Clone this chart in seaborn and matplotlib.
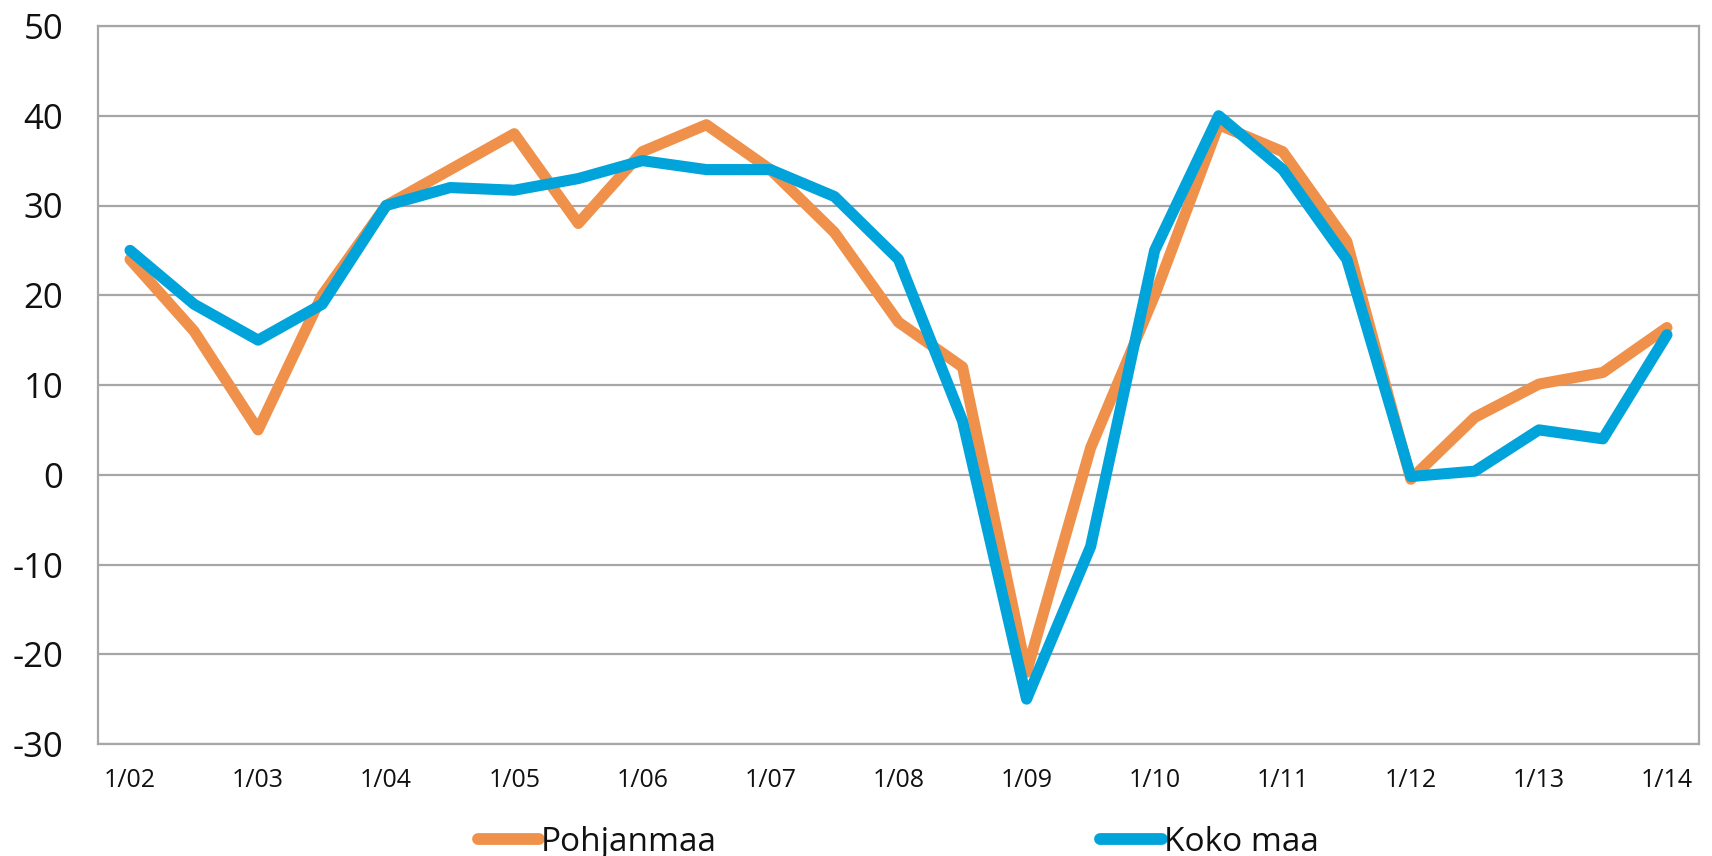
import numpy as np
import pandas as pd
import matplotlib
matplotlib.use("Agg")
import matplotlib.pyplot as plt
import seaborn as sns

# ---- data ----
periods = ["1/02", "7/02", "1/03", "7/03", "1/04", "7/04", "1/05", "7/05", "1/06", "7/06",
           "1/07", "7/07", "1/08", "7/08", "1/09", "7/09", "1/10", "7/10", "1/11", "7/11",
           "1/12", "7/12", "1/13", "7/13", "1/14"]
pohjanmaa = [24, 16, 5, 20, 30, 34, 38, 28, 36, 39, 34, 27, 17, 12, -22, 3, 20, 39, 36, 26,
             -0.5, 6.4, 10.1, 11.4, 16.4]
koko_maa = [25, 19, 15, 19, 30, 32, 31.7, 33, 35, 34, 34, 31, 24, 6, -25, -8, 25, 40, 34, 24,
            -0.2, 0.4, 5, 4, 15.6]
series_names = ["Pohjanmaa", "Koko maa"]
xtick_labels = ["1/02", "1/03", "1/04", "1/05", "1/06", "1/07", "1/08", "1/09", "1/10",
                "1/11", "1/12", "1/13", "1/14"]
yticks = [-30, -20, -10, 0, 10, 20, 30, 40, 50]

colors = {"Pohjanmaa": "#F0914B", "Koko maa": "#00A4DA"}

df = pd.DataFrame({
    "t": list(range(len(periods))) * 2,
    "value": pohjanmaa + koko_maa,
    "series": [series_names[0]] * len(periods) + [series_names[1]] * len(periods),
})

sns.set_style("white")
plt.rcParams["font.family"] = ["Open Sans", "DejaVu Sans"]

fig = plt.figure(figsize=(17.12, 8.56), dpi=100)
ax = fig.add_axes([98 / 1712, 1 - 744 / 856, (1699 - 98) / 1712, (744 - 26) / 856])

sns.lineplot(data=df, x="t", y="value", hue="series", hue_order=series_names,
             palette=colors, linewidth=8.0, ax=ax, legend=True, sort=False)
for ln in ax.get_lines():
    ln.set_solid_capstyle("round")
    ln.set_solid_joinstyle("round")

ax.set_xlim(-0.5, len(periods) - 0.5)
ax.set_ylim(-30, 50)
ax.set_yticks(yticks)
ax.set_yticklabels([str(v) for v in yticks], fontsize=25, color="#111111")
ax.set_xticks(range(0, len(periods), 2))
ax.set_xticklabels(xtick_labels, fontsize=18, color="#111111")
ax.tick_params(axis="y", length=0, pad=25)
ax.tick_params(axis="x", length=0, pad=17)
ax.set_xlabel("")
ax.set_ylabel("")

ax.yaxis.grid(True, color="#A6A6A6", linewidth=1.6)
ax.xaxis.grid(False)
ax.set_axisbelow(True)
for s in ax.spines.values():
    s.set_visible(True)
    s.set_color("#A6A6A6")
    s.set_linewidth(1.6)

leg = ax.get_legend()
handles = leg.legend_handles if hasattr(leg, "legend_handles") else leg.legendHandles
leg.remove()
leg = fig.legend(handles, series_names, loc="center", bbox_to_anchor=(0.5245, 0.016),
                 ncol=2, frameon=False, fontsize=24, handlelength=1.85,
                 handletextpad=0.05, columnspacing=11.5)
for t in leg.get_texts():
    t.set_color("#111111")
for h in leg.legend_handles:
    h.set_linewidth(8.5)
    h.set_solid_capstyle("round")

fig.savefig("out.png", dpi=100)
